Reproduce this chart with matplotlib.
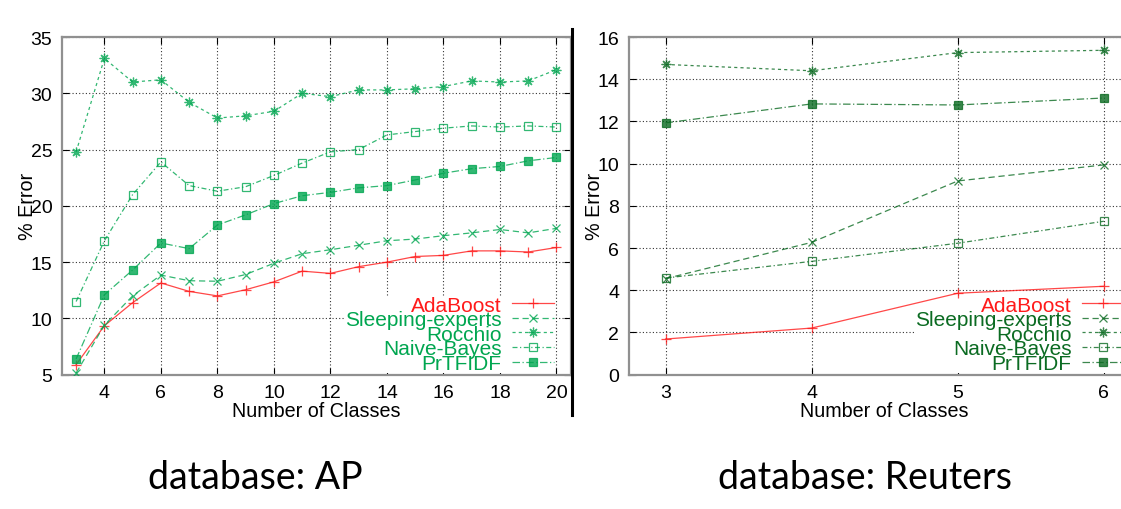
import matplotlib
matplotlib.use("Agg")
import matplotlib.pyplot as plt
from matplotlib.lines import Line2D

plt.rcParams['font.family'] = ['Liberation Sans', 'DejaVu Sans']

# AP database, number of classes 3..20
ap_classes = list(range(3, 21))
ap_adaboost = [5.9, 9.35, 11.4, 13.15, 12.4, 12.0, 12.55, 13.25, 14.2, 14.0,
               14.6, 15.0, 15.5, 15.6, 16.0, 16.0, 15.9, 16.3]
ap_sleeping = [5.15, 9.4, 12.0, 13.85, 13.35, 13.3, 13.9, 14.9, 15.75, 16.1,
               16.5, 16.9, 17.05, 17.35, 17.6, 17.9, 17.6, 18.0]
ap_rocchio = [24.8, 33.1, 31.0, 31.2, 29.2, 27.8, 28.0, 28.4, 30.0, 29.7,
              30.3, 30.3, 30.4, 30.6, 31.1, 31.0, 31.1, 32.1]
ap_naive = [11.5, 16.9, 21.0, 23.9, 21.8, 21.3, 21.7, 22.7, 23.8, 24.8,
            25.0, 26.3, 26.6, 26.9, 27.1, 27.0, 27.1, 27.0]
ap_prtfidf = [6.4, 12.1, 14.3, 16.7, 16.2, 18.3, 19.2, 20.2, 20.9, 21.2,
              21.6, 21.8, 22.3, 22.9, 23.3, 23.5, 24.0, 24.3]

# Reuters database, number of classes 3..6
re_classes = [3, 4, 5, 6]
re_adaboost = [1.69, 2.21, 3.86, 4.19]
re_sleeping = [4.55, 6.27, 9.18, 9.94]
re_rocchio = [14.7, 14.4, 15.26, 15.37]
re_naive = [4.58, 5.37, 6.23, 7.27]
re_prtfidf = [11.93, 12.83, 12.78, 13.11]

labels = ["AdaBoost", "Sleeping-experts", "Rocchio", "Naive-Bayes", "PrTFIDF"]

fig = plt.figure(figsize=(11.21, 5.10), dpi=100)
W, H = 1121.0, 510.0
ax1 = fig.add_axes([62 / W, 1 - 375.7 / H, 508.6 / W, 337.7 / H])
ax2 = fig.add_axes([629 / W, 1 - 375.7 / H, 511.4 / W, 337.7 / H])

asterisk = (8, 2, 0)
styles = [
    dict(ls='-', marker='+', ms=7, mfc='none'),
    dict(ls=(0, (5, 3)), marker='x', ms=5.5, mfc='none'),
    dict(ls=(0, (2.5, 2.5)), marker=asterisk, ms=7, mfc='none'),
    dict(ls=(0, (4, 2, 1, 2)), marker='s', ms=6, mfc='none'),
    dict(ls=(0, (6, 2, 1, 2)), marker='s', ms=6),
]


def draw(ax, x, series, green, red, xlim, ylim, xticks, yticks):
    for i, (y, lab) in enumerate(zip(series, labels)):
        c = red if i == 0 else green
        st = dict(styles[i])
        mfc = st.pop('mfc', c)
        ax.plot(x, y, color=c, lw=0.9, alpha=0.8, mec=c, mfc=mfc,
                mew=0.9, label=lab, zorder=3, **st)
    ax.set_xlim(*xlim)
    ax.set_ylim(*ylim)
    ax.set_xticks(xticks)
    ax.set_yticks(yticks)
    ax.grid(True, color='black', ls=(0, (1, 2)), lw=0.8, alpha=0.8)
    ax.tick_params(direction='in', top=True, right=True, length=5,
                   width=0.8, labelsize=14, pad=7)
    for s in ax.spines.values():
        s.set_color('#909090')
        s.set_linewidth(1.6)
    ax.set_xlabel("Number of Classes", fontsize=14.2, labelpad=0)
    ax.set_ylabel("% Error", fontsize=14.2, labelpad=-5)
    leg = ax.legend(loc='lower right', bbox_to_anchor=(0.967, 0.005),
                    markerfirst=False, handlelength=2.0, handletextpad=0.5,
                    labelspacing=-0.21, fontsize=15, frameon=True,
                    facecolor='white', edgecolor='none', framealpha=1,
                    borderpad=0.0, borderaxespad=0.0)
    leg.set_zorder(2)
    for col in leg._legend_handle_box.get_children():
        col.align = 'right'
    for i, t in enumerate(leg.get_texts()):
        t.set_color(red if i == 0 else green)
    return leg


draw(ax1, ap_classes, [ap_adaboost, ap_sleeping, ap_rocchio, ap_naive, ap_prtfidf],
     '#00a650', '#ff1a1a', (2.5, 20.5), (5, 35), range(4, 21, 2), range(5, 36, 5))
draw(ax2, re_classes, [re_adaboost, re_sleeping, re_rocchio, re_naive, re_prtfidf],
     '#0b6b22', '#ff1a1a', (2.75, 6.25), (0, 16), re_classes, range(0, 17, 2))

fig.add_artist(Line2D([571.7 / W] * 2, [1 - 30 / H, 1 - 416 / H],
                      color='black', lw=2.2))

fig.text(255 / W, 1 - 478 / H, "database: AP", ha='center', va='center',
         fontsize=27, family=['Lato', 'DejaVu Sans'])
fig.text(865 / W, 1 - 478 / H, "database: Reuters", ha='center', va='center',
         fontsize=27, family=['Lato', 'DejaVu Sans'])

fig.savefig("out.png", dpi=100)
